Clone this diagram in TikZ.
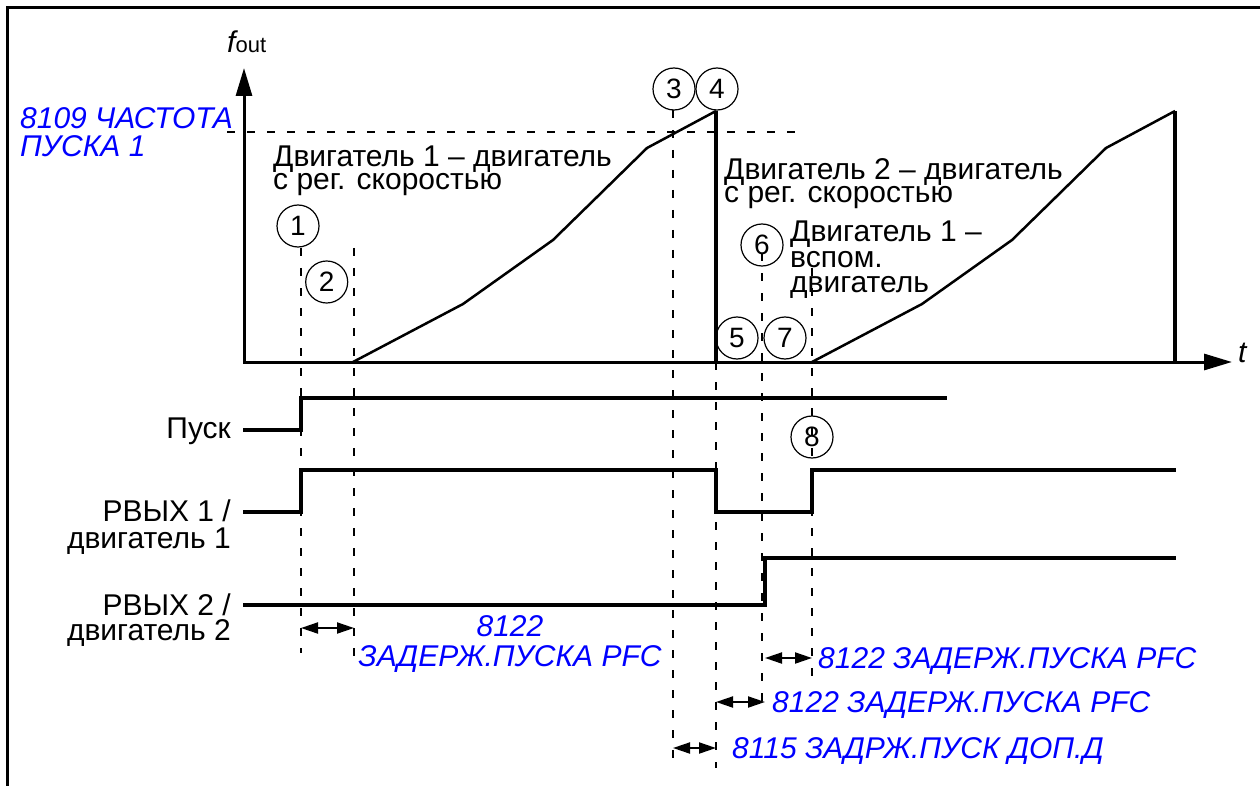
\documentclass[tikz,border=0pt]{standalone}
\usepackage{fontspec}
\setmainfont{Liberation Sans}
\usetikzlibrary{arrows.meta}
\definecolor{parblue}{RGB}{0,0,255}
\begin{document}
\begin{tikzpicture}[x=1pt,y=-1pt,
  lbl/.style={inner sep=0pt, font=\fontsize{30}{24}\selectfont},
  par/.style={inner sep=0pt, text=parblue, font=\fontsize{30}{24}\selectfont\itshape},
  num/.style={draw, circle, line width=1.2pt, minimum size=42pt, inner sep=0pt, font=\fontsize{28}{28}\selectfont},
  guide/.style={line width=2pt, dash pattern=on 8pt off 12pt},
  sig/.style={line width=4pt, line join=miter},
  ramp/.style={line width=2.5pt, line join=round},
  drop/.style={line width=4.5pt},
  axis/.style={line width=3pt, line join=miter, {Triangle[length=28pt,width=16pt]}-{Triangle[length=28pt,width=16pt]}},
  span/.style={line width=2pt, {Triangle[length=17pt,width=11pt]}-{Triangle[length=17pt,width=11pt]}},
]
\useasboundingbox (0,0) rectangle (1260,786);
% frame
\draw[line width=2.5pt] (7.5,786) -- (7.5,7.5) -- (1260,7.5);

% guide lines (dashed)
\coordinate (gA1) at (227,131.7); \coordinate (gA2) at (802,131.7);
\draw[guide] (gA1) -- (gA2);
\coordinate (v1t) at (301,248); \coordinate (v1b) at (301,653);
\coordinate (v2t) at (354,248); \coordinate (v2b) at (354,665);
\coordinate (v3t) at (673,110); \coordinate (v3b) at (673,768);
\coordinate (v4t) at (716,362); \coordinate (v4b) at (716,768);
\coordinate (v6t) at (762,253); \coordinate (v6b) at (762,712);
\coordinate (v8t) at (812,268); \coordinate (v8b) at (812,680);
\foreach \a/\b in {v1t/v1b,v2t/v2b,v3t/v3b,v4t/v4b,v6t/v6b,v8t/v8b}
  \draw[guide] (\a) -- (\b);

% axes
\coordinate (O) at (244,362);
\coordinate (ytip) at (244,68);
\coordinate (xtip) at (1232,362);
\draw[axis] (ytip) -- (O) -- (xtip);
\node[lbl, anchor=base west] (fout) at (227,53) {{\itshape f}{\fontsize{22}{22}\selectfont out}};
\node[lbl, anchor=base west] (tlab) at (1238,362) {\itshape t};

\node[par, anchor=base west] (fs1) at (20,128.3) {8109 ЧАСТОТА};
\node[par, anchor=base west] (fs2) at (20,157) {ПУСКА 1};

% ramps
\foreach \s in {0,459}{
  \begin{scope}[xshift=\s]
    \draw[ramp] (353,362) -- (463,304) -- (553,240) -- (597,197) -- (647,148) -- (716,111);
    \draw[drop] (716,111) -- (716,362);
  \end{scope}
}

% texts in plot
\node[lbl, anchor=base west] (m1a) at (273,166.7) {Двигатель 1 – двигатель};
\node[lbl, anchor=base west] (m1b) at (273,190) {с рег. скоростью};
\node[lbl, anchor=base west] (m2a) at (724,180) {Двигатель 2 – двигатель};
\node[lbl, anchor=base west] (m2b) at (724,203) {с рег. скоростью};
\node[lbl, anchor=base west] (m3a) at (790,242) {Двигатель 1 –};
\node[lbl, anchor=base west] (m3b) at (790,267) {вспом.};
\node[lbl, anchor=base west] (m3c) at (790,292) {двигатель};

% numbered circles
\node[num] (n1) at (298,226) {1};
\node[num] (n2) at (326.7,282) {2};
\node[num] (n3) at (674,89) {3};
\node[num] (n4) at (717,89) {4};
\node[num] (n5) at (737,338) {5};
\node[num] (n6) at (762,245) {6};
\node[num] (n7) at (785,338) {7};
\node[num] (n8) at (812,437) {8};

% signals
\node[lbl, anchor=base east] (sP) at (231,438) {Пуск};
\node[lbl, anchor=base east] (sR1a) at (231,521.7) {РВЫХ 1 /};
\node[lbl, anchor=base east] (sR1b) at (231,548) {двигатель 1};
\node[lbl, anchor=base east] (sR2a) at (231,615) {РВЫХ 2 /};
\node[lbl, anchor=base east] (sR2b) at (231,640) {двигатель 2};

\draw[sig] (243,430) -- (301,430) -- (301,398) -- (947,398);
\draw[sig] (243,512) -- (301,512) -- (301,470) -- (716,470) -- (716,512) -- (812,512) -- (812,470) -- (1176,470);
\draw[sig] (243,605) -- (765,605) -- (765,558) -- (1176,558);

% delay spans
\coordinate (d1a) at (301,628); \coordinate (d1b) at (354,628);
\draw[span] (d1a) -- (d1b);
\node[par, anchor=base] (t1a) at (510,636.7) {8122};
\node[par, anchor=base] (t1b) at (510,666.7) {ЗАДЕРЖ.ПУСКА PFC};

\coordinate (d2a) at (765,658); \coordinate (d2b) at (812,658);
\draw[span] (d2a) -- (d2b);
\node[par, anchor=base west] (t2) at (818,668) {8122 ЗАДЕРЖ.ПУСКА PFC};

\coordinate (d3a) at (716,702); \coordinate (d3b) at (765,702);
\draw[span] (d3a) -- (d3b);
\node[par, anchor=base west] (t3) at (772,712) {8122 ЗАДЕРЖ.ПУСКА PFC};

\coordinate (d4a) at (673,748); \coordinate (d4b) at (716,748);
\draw[span] (d4a) -- (d4b);
\node[par, anchor=base west] (t4) at (732,758) {8115 ЗАДРЖ.ПУСК ДОП.Д};
\end{tikzpicture}
\end{document}
